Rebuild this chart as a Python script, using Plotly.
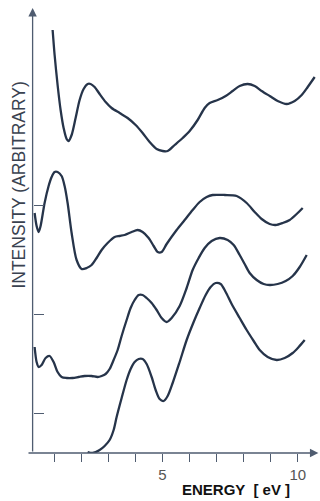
import plotly.graph_objects as go

# Energy (eV) and intensity (arbitrary units, stacked spectra)
PX0, PXU = 27.4, 27.07   # helper only for converting read positions


def ev(px_list):
    return [round((p - PX0) / PXU, 3) for p in px_list]


def inten(py_list):
    return [round((453 - p) / 10, 2) for p in py_list]


curve1_e = ev([53, 55, 58, 61, 64, 67, 69, 72, 76, 80, 84, 88, 91, 95, 100, 106, 112, 120, 128, 136, 143,
               150, 157, 163, 168, 175, 183, 190, 198, 205, 210, 218, 226, 233, 240, 248, 255, 262, 270,
               278, 287, 295, 302, 308, 315])
curve1_i = inten([30, 55, 85, 110, 128, 139, 141, 135, 118, 100, 89, 84, 84, 87, 94, 102, 108, 113, 118, 125,
                  133, 142, 149, 151, 151, 145, 138, 131, 120, 108, 103, 100, 96, 91, 86, 84, 86, 91, 96,
                  101, 104, 101, 95, 87, 77])

curve2_e = ev([35, 37, 39, 41, 45, 49, 52, 55, 58, 62, 65, 68, 72, 77, 82, 87, 92, 97, 102, 108, 115, 120,
               125, 132, 138, 143, 149, 154, 158, 162, 167, 177, 185, 193, 200, 207, 213, 225, 237, 247,
               255, 262, 270, 276, 283, 290, 297, 303])
curve2_i = inten([213, 226, 232, 226, 203, 186, 177, 172, 172, 176, 186, 203, 233, 260, 269, 268, 265, 258,
                  250, 243, 237, 236, 235, 232, 230, 232, 238, 246, 252, 252, 244, 230, 220, 210, 202, 197,
                  195, 195, 196, 203, 212, 219, 224, 225, 223, 220, 214, 208])

curve3_e = ev([35, 37, 39, 42, 46, 50, 54, 58, 62, 67, 73, 79, 85, 92, 98, 102, 106, 110, 114, 118, 122,
               127, 131, 135, 139, 143, 147, 152, 157, 162, 167, 172, 180, 187, 193, 199, 205, 212, 220,
               228, 234, 240, 245, 250, 257, 264, 270, 278, 286, 293, 300, 307])
curve3_i = inten([347, 362, 367, 365, 358, 356, 362, 372, 377, 378, 378, 377, 376, 376, 377, 376, 374, 369,
                  360, 350, 336, 320, 308, 300, 295, 295, 298, 303, 310, 318, 322, 318, 306, 288, 270, 258,
                  248, 241, 238, 240, 245, 255, 264, 273, 280, 284, 285, 284, 281, 276, 267, 255])

curve4_e = ev([88, 93, 100, 105, 110, 114, 117, 122, 127, 131, 135, 139, 143, 147, 152, 156, 160, 164, 168,
               173, 180, 187, 194, 200, 206, 211, 216, 221, 226, 232, 240, 247, 254, 260, 268, 277, 285,
               293, 299, 305])
curve4_i = inten([452, 453, 450, 446, 440, 430, 417, 398, 380, 369, 362, 359, 359, 364, 377, 390, 399, 401,
                  396, 383, 362, 340, 322, 308, 295, 287, 283, 284, 292, 304, 318, 330, 341, 350, 357, 360,
                  358, 353, 347, 340])

x_ticks = [1, 2, 3, 4, 5, 6, 7, 8, 9, 10]
x_ticktext = ["", "", "", "", "5", "", "", "", "", "10"]
y_ticks = [4.0, 13.9, 24.8]

LINE = "#26344a"
AX = "#4f5c70"

fig = go.Figure()
for e, i in [(curve1_e, curve1_i), (curve2_e, curve2_i), (curve3_e, curve3_i), (curve4_e, curve4_i)]:
    fig.add_trace(go.Scatter(x=e, y=i, mode="lines",
                             line=dict(color=LINE, width=2.3, shape="spline", smoothing=0.8),
                             hoverinfo="skip", showlegend=False))

y_axis_x = 0.207
x_max = 10.82
y_max = 45.3

# axes drawn as arrows
fig.add_annotation(x=10.76, y=0, ax=0, ay=0, xref="x", yref="y", axref="x", ayref="y",
                   text="", showarrow=True, arrowhead=2, arrowsize=1.3, arrowwidth=1.3,
                   arrowcolor=AX)
fig.add_annotation(x=y_axis_x, y=44.5, ax=y_axis_x, ay=0, xref="x", yref="y", axref="x", ayref="y",
                   text="", showarrow=True, arrowhead=2, arrowsize=1.3, arrowwidth=1.3,
                   arrowcolor=AX)

fig.add_annotation(x=-0.028, y=0.592, xref="paper", yref="paper", text="INTENSITY (ARBITRARY)",
                   textangle=-90, showarrow=False, xanchor="center", yanchor="middle",
                   font=dict(family="Liberation Sans, Arial", size=17.5, color="#3a4250"))
fig.add_annotation(x=0.713, y=-0.0795, xref="paper", yref="paper", text="<b>ENERGY  [ eV ]</b>",
                   showarrow=False, xanchor="center", yanchor="middle",
                   font=dict(family="Liberation Sans, Arial", size=15, color="#111111"))

fig.update_layout(
    width=320, height=501,
    margin=dict(l=27, r=0, t=0, b=48),
    paper_bgcolor="white", plot_bgcolor="white",
    xaxis=dict(range=[0, x_max], showgrid=False, zeroline=False, showline=False,
               tickmode="array", tickvals=x_ticks, ticktext=x_ticktext,
               ticks="outside", ticklen=8, tickwidth=1.2, tickcolor=AX,
               tickfont=dict(family="Liberation Sans, Arial", size=15, color="#555555")),
    yaxis=dict(range=[0, y_max], showgrid=False, zeroline=False, showline=False,
               anchor="free", position=y_axis_x / x_max,
               tickmode="array", tickvals=y_ticks, showticklabels=False,
               ticks="inside", ticklen=10, tickwidth=1.2, tickcolor=AX),
)

fig.write_html("out.html")
